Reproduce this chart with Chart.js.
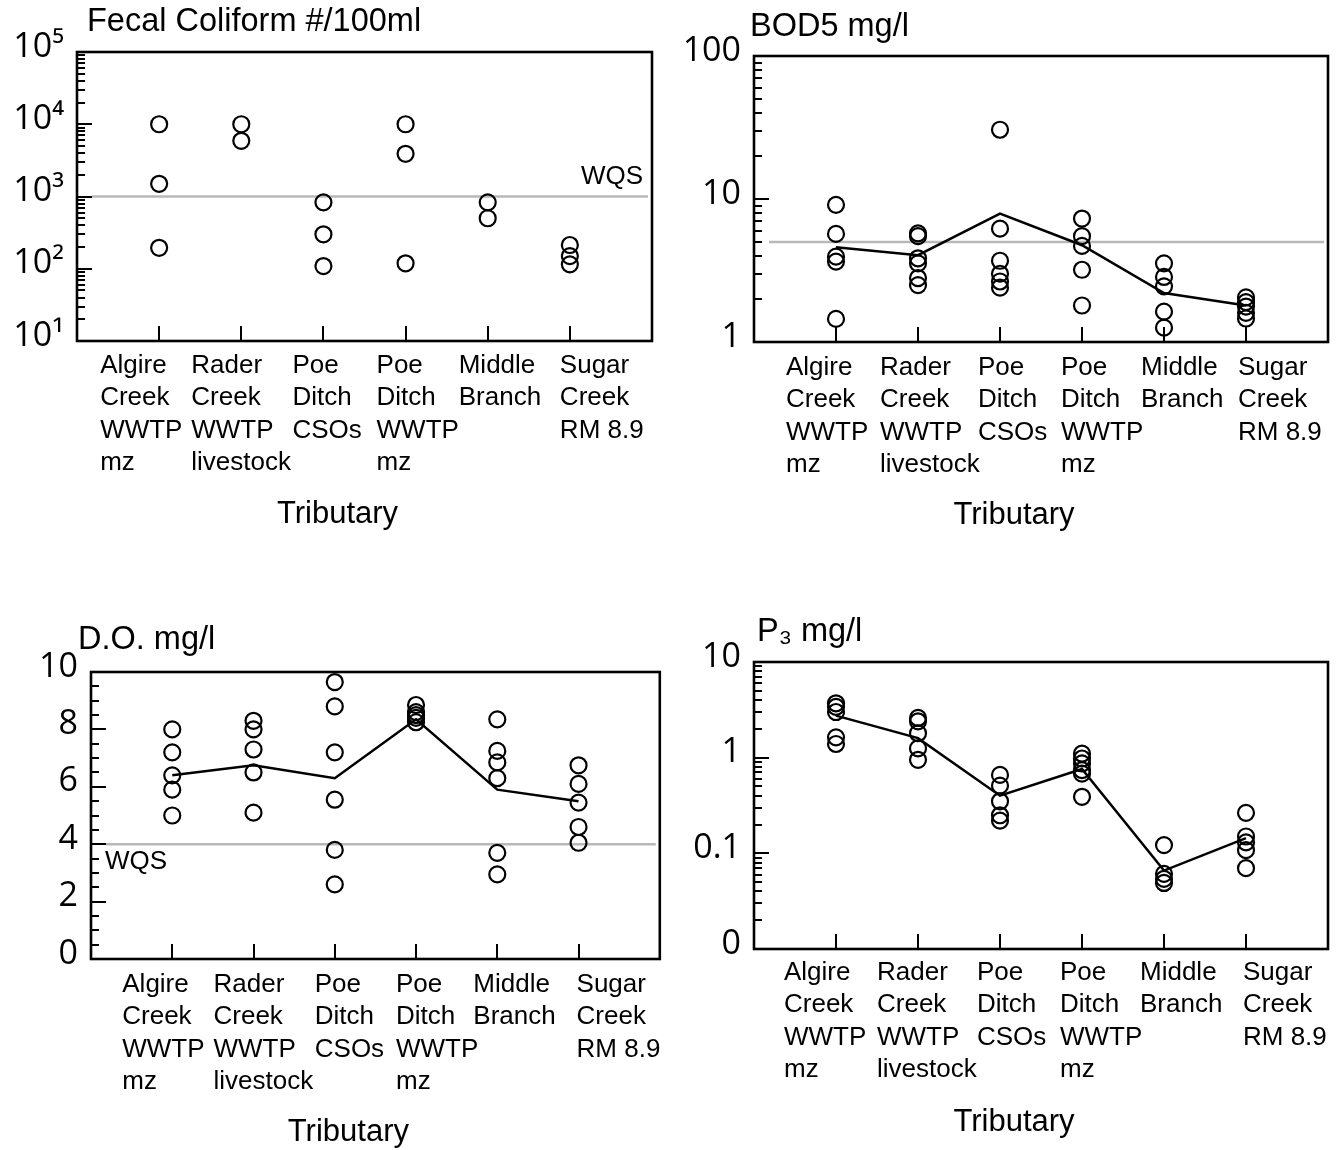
<!DOCTYPE html>
<html>
<head>
<meta charset="utf-8">
<script src="https://cdn.jsdelivr.net/npm/chart.js@4.4.0/dist/chart.umd.min.js"></script>
<style>
  body { margin: 0; background: #fff; }
  #wrap { position: relative; width: 1341px; height: 1150px; }
  canvas { position: absolute; }
</style>
</head>
<body>
<div id="wrap">
  <canvas id="fecal" width="670" height="575" style="left:0;top:0"></canvas>
  <canvas id="bod" width="671" height="575" style="left:670px;top:0"></canvas>
  <canvas id="do" width="670" height="575" style="left:0;top:575px"></canvas>
  <canvas id="phos" width="671" height="575" style="left:670px;top:575px"></canvas>
</div>
<script>
const tributaries = [
  ["Algire", "Creek", "WWTP", "mz"],
  ["Rader", "Creek", "WWTP", "livestock"],
  ["Poe", "Ditch", "CSOs"],
  ["Poe", "Ditch", "WWTP", "mz"],
  ["Middle", "Branch"],
  ["Sugar", "Creek", "RM 8.9"],
];

// one list of samples per tributary, same order as above
const fecalSamples = [
  [10000, 1500, 195], [10000, 5900], [830, 300, 109],
  [10000, 3900, 119], [830, 500], [213, 150, 115],
];
const fecalWqs = 1000;
const fecalTicks = [10, 100, 1000, 10000, 100000];
const fecalTickLabels = ["10¹", "10²", "10³", "10⁴", "10⁵"];

const bodSamples = [
  [9.1, 5.7, 3.95, 3.65, 1.45], [5.75, 5.5, 3.85, 3.55, 2.8, 2.5],
  [30.5, 6.2, 3.7, 3.0, 2.65, 2.4], [7.3, 5.5, 4.7, 3.2, 1.8],
  [3.55, 2.85, 2.45, 1.63, 1.26], [2.05, 1.9, 1.77, 1.6, 1.46],
];
const bodMean = [4.6, 4.05, 7.9, 4.75, 2.2, 1.8];
const bodWqs = 5;
const bodTicks = [1, 10, 100];
const bodTickLabels = ["1", "10", "100"];

const doSamples = [
  [8.0, 7.2, 6.4, 5.9, 5.0], [8.3, 8.0, 7.3, 6.5, 5.1],
  [9.65, 8.8, 7.2, 5.55, 3.8, 2.6], [8.85, 8.6, 8.5, 8.4, 8.25],
  [8.35, 7.25, 6.85, 6.3, 3.7, 2.95], [6.75, 6.1, 5.45, 4.6, 4.05],
];
const doMean = [6.4, 6.75, 6.3, 8.35, 5.9, 5.5];
const doWqs = 4;
const doTicks = [0, 2, 4, 6, 8, 10];
const doTickLabels = ["0", "2", "4", "6", "8", "10"];

const phosSamples = [
  [3.7, 3.4, 3.0, 1.63, 1.39], [2.6, 2.4, 1.8, 1.25, 0.95],
  [0.66, 0.51, 0.35, 0.25, 0.22], [1.1, 0.98, 0.87, 0.74, 0.68, 0.39],
  [0.122, 0.061, 0.054, 0.049], [0.265, 0.15, 0.13, 0.108, 0.07],
];
const phosMean = [2.75, 1.6, 0.4, 0.76, 0.066, 0.144];
const phosTicks = [0.01, 0.1, 1, 10];
const phosTickLabels = ["0", "0.1", "1", "10"];

const textFont = "'Liberation Sans', Arial, sans-serif";
const numFont = "'Open Sans', 'Liberation Sans', sans-serif";

function logMinors(min, max) {
  const out = [];
  for (let d = min; d < max; d *= 10) {
    for (let k = 2; k <= 9; k++) out.push(d * k);
  }
  return out;
}

function stepMinors(min, max, step) {
  const out = [];
  for (let v = min + step; v < max; v += step) out.push(v);
  return out;
}

const panelDecor = {
  id: "panelDecor",
  beforeDatasetsDraw(chart, args, o) {
    if (o.wqs == null) return;
    const { ctx, chartArea: a, scales: { y } } = chart;
    const py = y.getPixelForValue(o.wqs);
    ctx.save();
    ctx.strokeStyle = "#b8b8b8";
    ctx.lineWidth = 2.5;
    ctx.beginPath();
    ctx.moveTo(a.left + 15, py);
    ctx.lineTo(a.right - 4, py);
    ctx.stroke();
    if (o.wqsText) {
      ctx.fillStyle = "#000";
      ctx.font = "26px " + textFont;
      ctx.textBaseline = "middle";
      if (o.wqsText === "right") {
        ctx.textAlign = "right";
        ctx.fillText("WQS", a.right - 9, py - 20);
      } else {
        ctx.textAlign = "left";
        ctx.fillText("WQS", a.left + 14, py + 18);
      }
    }
    ctx.restore();
  },
  afterDraw(chart, args, o) {
    const { ctx, chartArea: a, scales: { x, y } } = chart;
    ctx.save();
    ctx.strokeStyle = "#000";
    ctx.lineWidth = 2.6;
    ctx.strokeRect(a.left, a.top, a.right - a.left, a.bottom - a.top);

    // y ticks, inward
    ctx.lineWidth = 2;
    ctx.beginPath();
    o.majors.forEach(v => {
      const py = Math.round(y.getPixelForValue(v));
      ctx.moveTo(a.left, py); ctx.lineTo(a.left + 15, py);
    });
    o.minors.forEach(v => {
      const py = Math.round(y.getPixelForValue(v));
      ctx.moveTo(a.left, py); ctx.lineTo(a.left + 8, py);
    });
    // category ticks, inward from the bottom
    tributaries.forEach((t, i) => {
      const px = Math.round(x.getPixelForValue(i + 1));
      ctx.moveTo(px, a.bottom); ctx.lineTo(px, a.bottom - 15);
    });
    ctx.stroke();

    ctx.fillStyle = "#000";
    ctx.textBaseline = "middle";
    ctx.textAlign = "left";
    ctx.font = "26px " + textFont;
    tributaries.forEach((lines, i) => {
      const px = x.getPixelForValue(i + 1) + o.labelShift[i];
      lines.forEach((s, k) => ctx.fillText(s, px, a.bottom + o.labelTop + k * 32.3));
    });

    ctx.font = "31px " + textFont;
    ctx.textAlign = "center";
    ctx.fillText("Tributary", (a.left + a.right) / 2 - 27, a.bottom + 173);

    ctx.font = "32.5px " + textFont;
    ctx.textAlign = "left";
    ctx.fillText(o.title, a.left + o.titleDx, a.top - o.titleDy);
    ctx.restore();
  },
};

function makePanel(id, p) {
  const canvas = document.getElementById(id);
  const W = canvas.width, H = canvas.height;
  const points = [];
  p.samples.forEach((vals, i) => vals.forEach(v => points.push({ x: i + 1, y: v })));
  const datasets = [{
    data: points,
    pointStyle: "circle",
    pointRadius: 8,
    pointBorderWidth: 2.2,
    pointBorderColor: "#000",
    pointBackgroundColor: "rgba(0,0,0,0)",
  }];
  if (p.mean) {
    datasets.push({
      data: p.mean.map((v, i) => ({ x: i + 1, y: v })),
      showLine: true,
      borderColor: "#000",
      borderWidth: 2.5,
      pointRadius: 0,
      fill: false,
    });
  }

  new Chart(canvas, {
    type: "scatter",
    data: { datasets },
    options: {
      responsive: false,
      animation: false,
      layout: { padding: { left: 0, top: p.area.top, right: W - p.area.right, bottom: 0 } },
      plugins: {
        legend: { display: false },
        tooltip: { enabled: false },
        panelDecor: {
          wqs: p.wqs,
          wqsText: p.wqsText,
          majors: p.ticks,
          minors: p.minors,
          labelShift: p.labelShift,
          labelTop: p.labelTop,
          title: p.title,
          titleDx: p.titleDx,
          titleDy: p.titleDy,
        },
      },
      scales: {
        x: {
          type: "linear",
          min: 0,
          max: 7,
          ticks: { display: false },
          grid: { display: false },
          border: { display: false },
          afterFit: (s) => { s.height = H - p.area.bottom; },
        },
        y: {
          type: p.yType,
          min: p.ticks[0],
          max: p.ticks[p.ticks.length - 1],
          position: "left",
          afterBuildTicks: (s) => { s.ticks = p.ticks.map(v => ({ value: v })); },
          afterFit: (s) => { s.width = p.area.left; },
          ticks: {
            autoSkip: false,
            callback: (v, i) => p.tickLabels[i],
            color: "#000",
            font: { family: numFont, size: 34 },
            padding: 13,
            labelOffset: -5,
          },
          grid: { display: false, drawTicks: false },
          border: { display: false },
        },
      },
    },
    plugins: [panelDecor],
  });
}

makePanel("fecal", {
  samples: fecalSamples, wqs: fecalWqs, wqsText: "right",
  yType: "logarithmic", ticks: fecalTicks, tickLabels: fecalTickLabels,
  minors: logMinors(10, 100000),
  area: { left: 77, top: 52, right: 652, bottom: 341 },
  labelShift: [-59, -50, -31, -29, -29, -10], labelTop: 25,
  title: "Fecal Coliform #/100ml", titleDx: 10, titleDy: 30,
});

makePanel("bod", {
  samples: bodSamples, mean: bodMean, wqs: bodWqs,
  yType: "logarithmic", ticks: bodTicks, tickLabels: bodTickLabels,
  minors: logMinors(1, 100),
  area: { left: 84, top: 56, right: 658, bottom: 342 },
  labelShift: [-50, -38, -22, -21, -23, -8], labelTop: 26,
  title: "BOD5 mg/l", titleDx: -4, titleDy: 29,
});

makePanel("do", {
  samples: doSamples, mean: doMean, wqs: doWqs, wqsText: "left",
  yType: "linear", ticks: doTicks, tickLabels: doTickLabels,
  minors: stepMinors(0, 10, 0.5),
  area: { left: 91, top: 97, right: 665, bottom: 384 },
  labelShift: [-50, -40, -20, -20, -24, -2], labelTop: 26,
  title: "D.O. mg/l", titleDx: -13, titleDy: 32,
});

makePanel("phos", {
  samples: phosSamples, mean: phosMean,
  yType: "logarithmic", ticks: phosTicks, tickLabels: phosTickLabels,
  minors: logMinors(0.01, 10),
  area: { left: 84, top: 87, right: 658, bottom: 374 },
  labelShift: [-52, -41, -23, -22, -24, -3], labelTop: 24,
  title: "P₃ mg/l", titleDx: 3, titleDy: 30,
});
</script>
</body>
</html>
